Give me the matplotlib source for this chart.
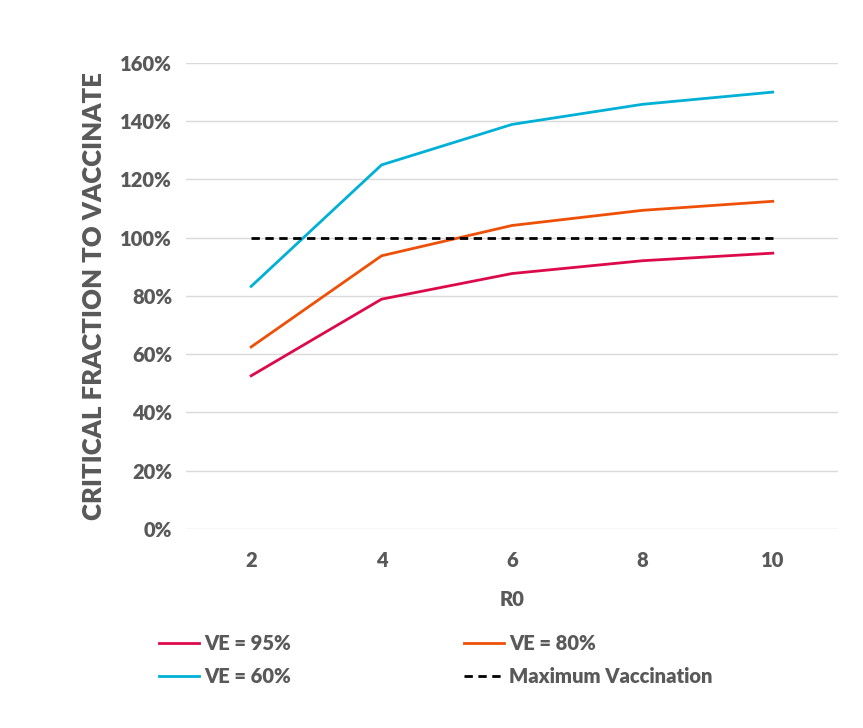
# Critical fraction to vaccinate vs R0 for different vaccine efficacies

import matplotlib
matplotlib.use('Agg')
import matplotlib.pyplot as plt

plt.rcParams['font.family'] = ['Lato', 'DejaVu Sans']
plt.rcParams['font.weight'] = 'heavy'

r0 = [2, 4, 6, 8, 10]
ve95 = [52.6, 78.9, 87.7, 92.1, 94.7]
ve80 = [62.5, 93.8, 104.2, 109.4, 112.5]
ve60 = [83.3, 125.0, 138.9, 145.8, 150.0]
max_vacc = [100, 100, 100, 100, 100]
yticks = [0, 20, 40, 60, 80, 100, 120, 140, 160]

grey = '#595959'

fig = plt.figure(figsize=(8.63, 7.28), dpi=100)
ax = fig.add_axes([0.2155, 0.2734, 0.7555, 0.6401])

ax.plot(r0, ve95, color='#DC0A4B', lw=2, label='VE = 95%')
ax.plot(r0, ve80, color='#EE5008', lw=2, label='VE = 80%')
ax.plot(r0, ve60, color='#00B0D6', lw=2, label='VE = 60%')
ax.plot(r0, max_vacc, color='black', lw=2, ls=(0, (3, 2)), label='Maximum Vaccination')

ax.set_xlim(1, 11)
ax.set_ylim(0, 160)
ax.set_xticks(r0)
ax.set_yticks(yticks)
ax.set_yticklabels(['%d%%' % v for v in yticks])
ax.grid(axis='y', color='#D9D9D9', lw=1)
ax.set_axisbelow(True)
for s in ax.spines.values():
    s.set_visible(False)
ax.tick_params(length=0, labelsize=14.5, colors=grey, pad=10)
for lab in ax.get_xticklabels() + ax.get_yticklabels():
    lab.set_fontweight('heavy')
ax.tick_params(axis='x', pad=16)

ax.set_xlabel('R0', fontsize=14.5, color=grey, fontweight='heavy', labelpad=14)
ax.set_ylabel('CRITICAL FRACTION TO VACCINATE', fontsize=18.5, color=grey,
              fontweight='heavy', labelpad=10)

# legend order: 95, 80 / 60, max
h, l = ax.get_legend_handles_labels()
order = [0, 2, 1, 3]
leg = fig.legend([h[i] for i in order], [l[i] for i in order], ncol=2,
                 loc='upper left', bbox_to_anchor=(0.163, 0.154),
                 frameon=False, fontsize=14.5, handlelength=2.0,
                 handletextpad=0.25, columnspacing=8.6, labelspacing=0.7)
for t in leg.get_texts():
    t.set_color(grey)
    t.set_fontweight('heavy')

fig.savefig('out.png', dpi=100)
